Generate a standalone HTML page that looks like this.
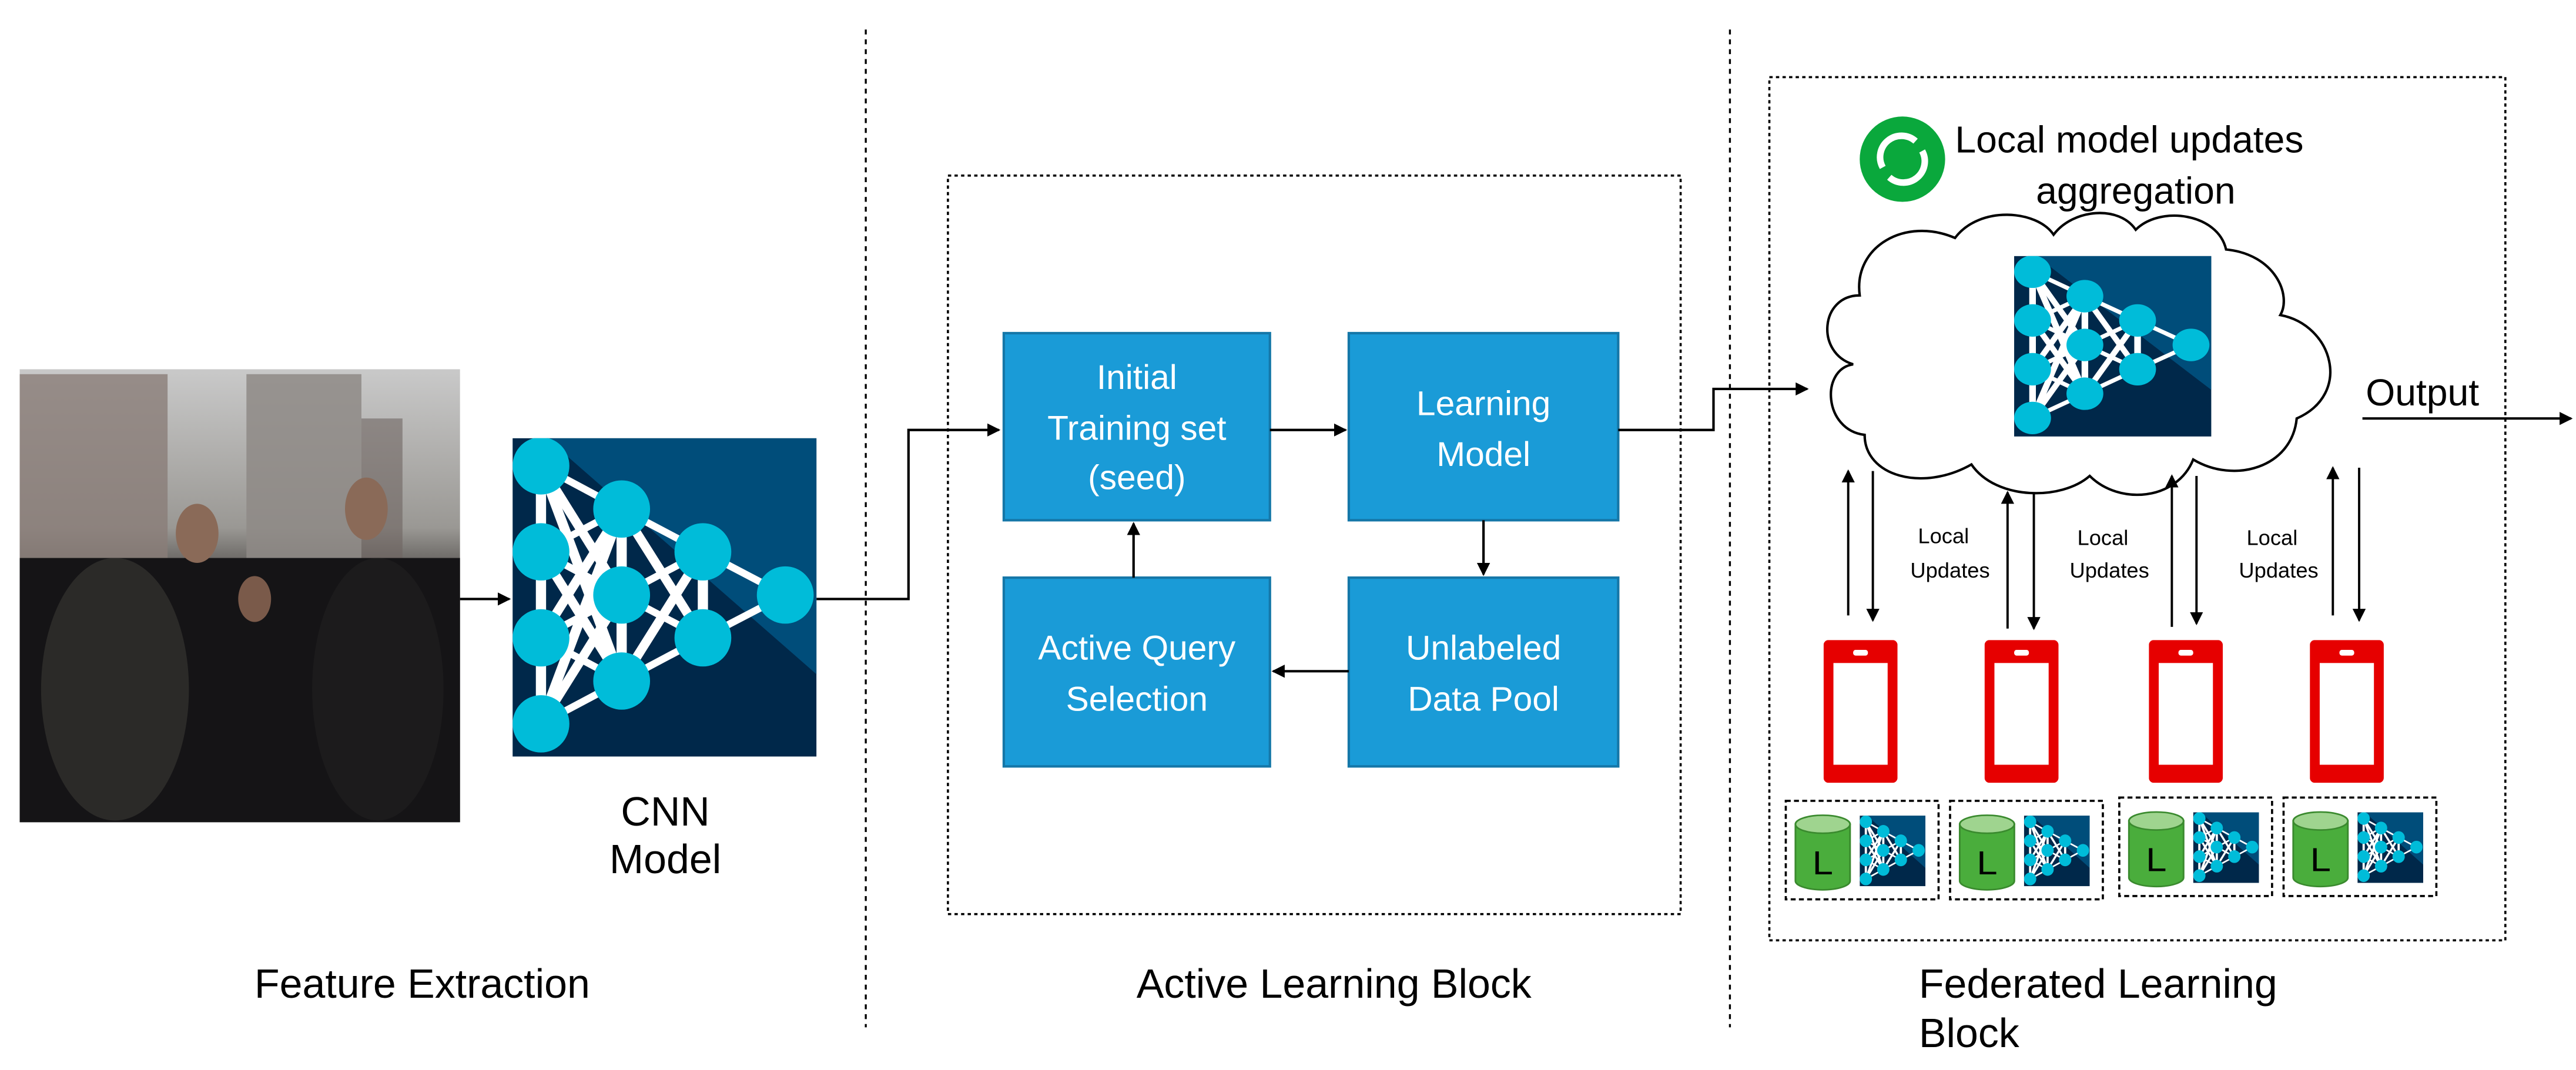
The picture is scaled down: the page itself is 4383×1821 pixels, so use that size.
<!DOCTYPE html>
<html><head><meta charset="utf-8"><style>
html,body{margin:0;padding:0;background:#fff;}
svg{display:block;}
</style></head><body>
<svg width="4383" height="1821" viewBox="0 0 1568 652" preserveAspectRatio="none" xmlns="http://www.w3.org/2000/svg" font-family="Liberation Sans, sans-serif">
<defs>
<marker id="ah" markerWidth="8" markerHeight="8" refX="7" refY="4" orient="auto" markerUnits="userSpaceOnUse"><path d="M0,0 L8,4 L0,8 z" fill="#000"/></marker>
<linearGradient id="sky" x1="0" y1="0" x2="0" y2="1"><stop offset="0" stop-color="#c9c9c9"/><stop offset="0.35" stop-color="#9a9894"/><stop offset="0.5" stop-color="#3a3634"/><stop offset="1" stop-color="#0c0c0e"/></linearGradient>
<symbol id="cnn" viewBox="0 0 535 944" preserveAspectRatio="none">
<rect x="0" y="0" width="535" height="944" fill="#00284a"/>
<path d="M60 0 L535 0 L535 700 Z" fill="#004d7a"/>
<g stroke="#fff" stroke-width="18">
<line x1="50" y1="82" x2="50" y2="847"/>
<line x1="50" y1="82" x2="192" y2="210"/><line x1="50" y1="82" x2="192" y2="465"/><line x1="50" y1="82" x2="192" y2="720"/>
<line x1="50" y1="337" x2="192" y2="210"/><line x1="50" y1="337" x2="192" y2="465"/><line x1="50" y1="337" x2="192" y2="720"/>
<line x1="50" y1="592" x2="192" y2="210"/><line x1="50" y1="592" x2="192" y2="465"/><line x1="50" y1="592" x2="192" y2="720"/>
<line x1="50" y1="847" x2="192" y2="210"/><line x1="50" y1="847" x2="192" y2="465"/><line x1="50" y1="847" x2="192" y2="720"/>
<line x1="192" y1="210" x2="192" y2="720"/>
<line x1="192" y1="210" x2="335" y2="337"/><line x1="192" y1="210" x2="335" y2="592"/>
<line x1="192" y1="465" x2="335" y2="337"/><line x1="192" y1="465" x2="335" y2="592"/>
<line x1="192" y1="720" x2="335" y2="337"/><line x1="192" y1="720" x2="335" y2="592"/>
<line x1="335" y1="337" x2="335" y2="592"/>
<line x1="335" y1="337" x2="480" y2="465"/><line x1="335" y1="592" x2="480" y2="465"/>
</g>
<g fill="#00bcd9">
<ellipse cx="50" cy="82" rx="50" ry="85"/><ellipse cx="50" cy="337" rx="50" ry="85"/><ellipse cx="50" cy="592" rx="50" ry="85"/><ellipse cx="50" cy="847" rx="50" ry="85"/>
<ellipse cx="192" cy="210" rx="50" ry="85"/><ellipse cx="192" cy="465" rx="50" ry="85"/><ellipse cx="192" cy="720" rx="50" ry="85"/>
<ellipse cx="335" cy="337" rx="50" ry="85"/><ellipse cx="335" cy="592" rx="50" ry="85"/>
<ellipse cx="480" cy="465" rx="50" ry="85"/>
</g>
</symbol>
<symbol id="phone" viewBox="0 0 45 87" preserveAspectRatio="none">
<rect x="0" y="0" width="45" height="87" rx="3" fill="#e60000"/>
<rect x="6" y="14" width="33" height="62" fill="#fff"/>
<rect x="18" y="6" width="9" height="3.5" rx="1.5" fill="#fff"/>
</symbol>
<symbol id="cyl" viewBox="0 0 40 60" preserveAspectRatio="none">
<path d="M1 8 L1 52 A19 7 0 0 0 39 52 L39 8 Z" fill="#4aad3c" stroke="#3a8a2e" stroke-width="1.2"/>
<ellipse cx="20" cy="8" rx="19" ry="7" fill="#9fd48f" stroke="#3a8a2e" stroke-width="1.2"/>
<text x="20" y="47" text-anchor="middle" font-size="26" fill="#000">L</text>
</symbol>
</defs>

<line x1="527" y1="18" x2="527" y2="626" stroke="#000" stroke-width="1.2" stroke-dasharray="3,3"/>
<line x1="1053" y1="18" x2="1053" y2="626" stroke="#000" stroke-width="1.2" stroke-dasharray="3,3"/>

<!-- photo -->
<rect x="12" y="225" width="268" height="276" fill="url(#sky)"/>
<rect x="12" y="228" width="90" height="130" fill="#8a7d78" opacity="0.8"/>
<rect x="150" y="228" width="70" height="140" fill="#8e8a86" opacity="0.85"/>
<rect x="220" y="255" width="25" height="100" fill="#6e6460" opacity="0.6"/>
<rect x="12" y="340" width="268" height="161" fill="#151416"/>
<ellipse cx="70" cy="420" rx="45" ry="80" fill="#2b2a28"/>
<ellipse cx="230" cy="420" rx="40" ry="80" fill="#1c1b1c"/>
<ellipse cx="120" cy="325" rx="13" ry="18" fill="#8a6a58"/>
<ellipse cx="223" cy="310" rx="13" ry="19" fill="#8a6a58"/>
<ellipse cx="155" cy="365" rx="10" ry="14" fill="#7a5a4a"/>

<line x1="280" y1="365" x2="310" y2="365" stroke="#000" stroke-width="1.5" marker-end="url(#ah)"/>
<use href="#cnn" x="312" y="267" width="185" height="194"/>
<text x="405" y="503" text-anchor="middle" font-size="25">CNN</text>
<text x="405" y="532" text-anchor="middle" font-size="25">Model</text>
<text x="257" y="608" text-anchor="middle" font-size="25">Feature Extraction</text>

<polyline points="497,365 553,365 553,262 608,262" fill="none" stroke="#000" stroke-width="1.5" marker-end="url(#ah)"/>

<rect x="577" y="107" width="446" height="450" fill="none" stroke="#000" stroke-width="1.3" stroke-dasharray="2,2"/>
<g fill="#1a9bd7" stroke="#1577a8" stroke-width="1.5">
<rect x="611" y="203" width="162" height="114"/>
<rect x="821" y="203" width="164" height="114"/>
<rect x="611" y="352" width="162" height="115"/>
<rect x="821" y="352" width="164" height="115"/>
</g>
<g fill="#fff" font-size="21" text-anchor="middle">
<text x="692" y="237">Initial</text>
<text x="692" y="268">Training set</text>
<text x="692" y="298">(seed)</text>
<text x="903" y="253">Learning</text>
<text x="903" y="284">Model</text>
<text x="692" y="402">Active Query</text>
<text x="692" y="433">Selection</text>
<text x="903" y="402">Unlabeled</text>
<text x="903" y="433">Data Pool</text>
</g>
<g stroke="#000" stroke-width="1.5" fill="none">
<line x1="773" y1="262" x2="819" y2="262" marker-end="url(#ah)"/>
<line x1="903" y1="317" x2="903" y2="350" marker-end="url(#ah)"/>
<line x1="821" y1="409" x2="775" y2="409" marker-end="url(#ah)"/>
<line x1="690" y1="352" x2="690" y2="319" marker-end="url(#ah)"/>
<polyline points="985,262 1043,262 1043,237 1100,237" marker-end="url(#ah)"/>
</g>
<text x="812" y="608" text-anchor="middle" font-size="25">Active Learning Block</text>

<rect x="1077" y="47" width="448" height="526" fill="none" stroke="#000" stroke-width="1.3" stroke-dasharray="2,2"/>
<circle cx="1158" cy="97" r="26" fill="#0aa83c"/>
<path d="M1146 102 A13 13 0 0 1 1166 86" fill="none" stroke="#fff" stroke-width="4"/>
<path d="M1170 92 A13 13 0 0 1 1150 108" fill="none" stroke="#fff" stroke-width="4"/>
<text x="1190" y="93" font-size="23">Local model updates</text>
<text x="1300" y="124" text-anchor="middle" font-size="23">aggregation</text>

<!-- cloud -->
<path d="M1135 265 C1110 262 1108 225 1128 222 C1105 215 1108 180 1132 180 C1128 150 1160 132 1190 145 C1205 125 1240 128 1250 143 C1262 127 1290 125 1300 140 C1315 125 1350 130 1355 152 C1385 155 1395 180 1388 192 C1420 198 1432 240 1398 255 C1395 285 1360 295 1335 280 C1325 305 1290 308 1272 290 C1255 305 1215 305 1200 283 C1170 300 1135 290 1135 265 Z" fill="#fff" stroke="#000" stroke-width="1.5"/>
<use href="#cnn" x="1226" y="156" width="120" height="110"/>

<text x="1440" y="247" font-size="23">Output</text>
<line x1="1438" y1="255" x2="1565" y2="255" stroke="#000" stroke-width="1.5" marker-end="url(#ah)"/>

<g stroke="#000" stroke-width="1.4">
<line x1="1125" y1="375" x2="1125" y2="287" marker-end="url(#ah)"/><line x1="1140" y1="287" x2="1140" y2="378" marker-end="url(#ah)"/>
<line x1="1222" y1="383" x2="1222" y2="300" marker-end="url(#ah)"/><line x1="1238" y1="300" x2="1238" y2="383" marker-end="url(#ah)"/>
<line x1="1322" y1="382" x2="1322" y2="290" marker-end="url(#ah)"/><line x1="1337" y1="290" x2="1337" y2="380" marker-end="url(#ah)"/>
<line x1="1420" y1="375" x2="1420" y2="285" marker-end="url(#ah)"/><line x1="1436" y1="285" x2="1436" y2="378" marker-end="url(#ah)"/>
</g>
<g font-size="13" text-anchor="middle">
<text x="1183" y="331">Local</text><text x="1187" y="352">Updates</text>
<text x="1280" y="332">Local</text><text x="1284" y="352">Updates</text>
<text x="1383" y="332">Local</text><text x="1387" y="352">Updates</text>
</g>

<use href="#phone" x="1110" y="390" width="45" height="87"/>
<use href="#phone" x="1208" y="390" width="45" height="87"/>
<use href="#phone" x="1308" y="390" width="45" height="87"/>
<use href="#phone" x="1406" y="390" width="45" height="87"/>

<g fill="none" stroke="#000" stroke-width="1.3" stroke-dasharray="3,2">
<rect x="1087" y="488" width="93" height="60"/>
<rect x="1187" y="488" width="93" height="60"/>
<rect x="1290" y="486" width="93" height="60"/>
<rect x="1390" y="486" width="93" height="60"/>
</g>
<use href="#cyl" x="1092" y="496" width="35" height="47"/><use href="#cnn" x="1132" y="497" width="40" height="43"/>
<use href="#cyl" x="1192" y="496" width="35" height="47"/><use href="#cnn" x="1232" y="497" width="40" height="43"/>
<use href="#cyl" x="1295" y="494" width="35" height="47"/><use href="#cnn" x="1335" y="495" width="40" height="43"/>
<use href="#cyl" x="1395" y="494" width="35" height="47"/><use href="#cnn" x="1435" y="495" width="40" height="43"/>

<text x="1168" y="608" font-size="25">Federated Learning</text>
<text x="1168" y="638" font-size="25">Block</text>
</svg>
</body></html>
